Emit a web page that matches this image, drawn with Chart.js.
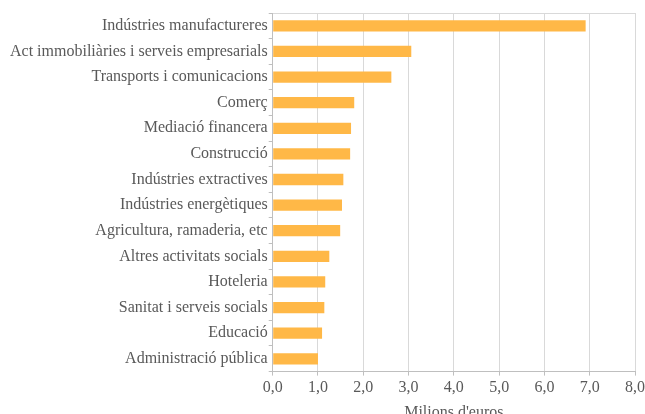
<!DOCTYPE html>
<html>
<head>
<meta charset="utf-8">
<script src="https://cdn.jsdelivr.net/npm/chart.js@4.4.0/dist/chart.umd.min.js"></script>
<style>
  html, body { margin: 0; padding: 0; background: #fff; overflow: hidden; }
  #wrap { width: 648px; height: 426px; position: relative; }
</style>
</head>
<body>
<div id="wrap"><canvas id="sectors"></canvas></div>
<script>
// sectors, largest first
const sectors = [
    'Indústries manufactureres',
    'Act immobiliàries i serveis empresarials',
    'Transports i comunicacions',
    'Comerç',
    'Mediació financera',
    'Construcció',
    'Indústries extractives',
    'Indústries energètiques',
    'Agricultura, ramaderia, etc',
    'Altres activitats socials',
    'Hoteleria',
    'Sanitat i serveis socials',
    'Educació',
    'Administració pública'
];
// milions d'euros
const values = [6.91, 3.06, 2.62, 1.80, 1.73, 1.71, 1.56, 1.53, 1.49, 1.25, 1.16, 1.14, 1.09, 1.00];
const axisMax = 8;

const textColor = '#595959';
const serif = "'Liberation Serif', 'Times New Roman', serif";

const ctx = document.getElementById('sectors').getContext('2d');
const chart = new Chart(ctx, {
    type: 'bar',
    data: {
        labels: sectors,
        datasets: [{
            data: values,
            backgroundColor: '#ffb847',
            borderWidth: 0,
            categoryPercentage: 0.44,
            barPercentage: 1
        }]
    },
    options: {
        indexAxis: 'y',
        responsive: true,
        maintainAspectRatio: false,
        animation: false,
        layout: {
            padding: { left: 9, right: 0, top: 13, bottom: 4 }
        },
        plugins: {
            legend: { display: false },
            tooltip: { enabled: false }
        },
        scales: {
            x: {
                min: 0,
                max: axisMax,
                ticks: {
                    stepSize: 1,
                    color: textColor,
                    font: { family: serif, size: 16 },
                    padding: 3,
                    callback: v => v.toFixed(1).replace('.', ',')
                },
                grid: {
                    color: '#d9d9d9',
                    lineWidth: 1,
                    tickLength: 4,
                    tickColor: '#bfbfbf'
                },
                border: { color: '#bfbfbf', width: 1 },
                title: {
                    display: true,
                    text: "Milions d'euros",
                    color: textColor,
                    font: { family: serif, size: 16 },
                    padding: { top: 2, bottom: 0 }
                }
            },
            y: {
                ticks: {
                    color: textColor,
                    font: { family: serif, size: 16 },
                    padding: 1,
                    autoSkip: false
                },
                grid: {
                    offset: true,
                    // only the top edge of the plot area gets a line
                    color: c => c.index === 0 ? '#d9d9d9' : 'rgba(0,0,0,0)',
                    tickColor: '#bfbfbf',
                    tickLength: 4
                },
                border: { color: '#bfbfbf', width: 1 }
            }
        }
    }
});
</script>
</body>
</html>
